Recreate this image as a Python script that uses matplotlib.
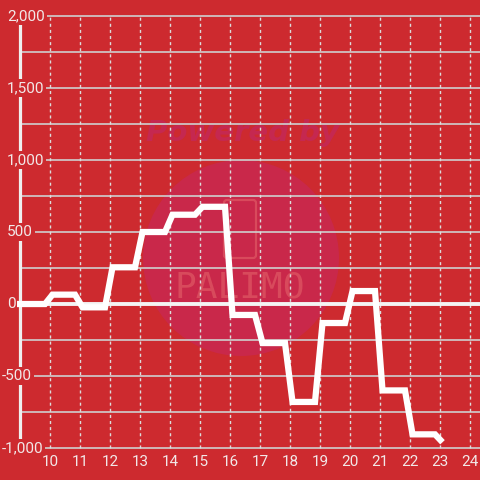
import matplotlib
matplotlib.use("Agg")
import matplotlib.pyplot as plt
from matplotlib.patches import Circle, FancyBboxPatch
import matplotlib.transforms as mtransforms

# ---- data ----
hours = [9, 10, 11, 12, 13, 14, 15, 16, 17, 18, 19, 20, 21, 22, 23]
hourly_values = [0, 65, -23, 255, 500, 620, 675, -76, -271, -680, -132, 90, -600, -905, -960]
x_ticks = [10, 11, 12, 13, 14, 15, 16, 17, 18, 19, 20, 21, 22, 23, 24]
y_ticks = [-1000, -500, 0, 500, 1000, 1500, 2000]
y_minor = [-750, -250, 250, 750, 1250, 1750]
first_time = 8.9          # first sample of the day
seg_start_min = 5         # each hour: value held from hh:05 ...
seg_end_min = 50          # ... to hh:50

# build the line vertices
times, values = [], []
for i, (h, v) in enumerate(zip(hours, hourly_values)):
    t0 = first_time if i == 0 else h + seg_start_min / 60
    times.append(t0); values.append(v)
    if i < len(hours) - 1:
        times.append(h + seg_end_min / 60); values.append(v)

BG = '#cd2a2f'
TXT = '#f2e8e8'
GRID = '#cfcfcf'

fig = plt.figure(figsize=(4.8, 4.8), dpi=100, facecolor=BG)
ax = fig.add_axes([0, 0, 1, 1], facecolor=BG)
ax.set_xlim(8.333, 24.333)
ax.set_ylim(-1222, 2111)
for s in ax.spines.values():
    s.set_visible(False)
ax.set_xticks([]); ax.set_yticks([])

def P(px, py):
    return (px / 480, 1 - py / 480)

# watermark
circ = Circle(P(241, 258), 98 / 480, transform=fig.transFigure, facecolor='#c9284a',
              edgecolor='none', zorder=0.2)
ax.add_patch(circ)
ax.text(*P(243, 133), 'Powered by', transform=fig.transFigure, ha='center', va='center',
        fontsize=21, fontweight='bold', style='italic', color='#c52850', zorder=0.3,
        family='DejaVu Sans')
phone = FancyBboxPatch(P(224, 258), 32 / 480, 58 / 480, boxstyle='round,pad=0,rounding_size=0.006',
                       transform=fig.transFigure, facecolor='none', edgecolor='#d84a5c',
                       lw=1.6, zorder=0.3)
ax.add_patch(phone)
ax.text(*P(240, 287), 'PALIMO', transform=fig.transFigure, ha='center', va='center',
        fontsize=26, fontweight='light', color='#d84a5c', zorder=0.3, family='DejaVu Sans Mono')

# grid
for y in y_ticks + y_minor:
    if y == 0:
        continue
    ax.axhline(y, xmin=20 / 480, xmax=1, color=GRID, lw=1.2, zorder=1)
for x in x_ticks:
    ax.plot([x, x], [y_ticks[0], y_ticks[-1]], color='#dcdcdc', lw=1.0,
            dashes=(2.2, 2.2), zorder=1)
ax.axhline(0, xmin=20 / 480, xmax=1, color='#f4f4f4', lw=2.8, zorder=2)
ax.plot([9.0, 9.0], [y_ticks[0], y_ticks[-1]], color='#efefef', lw=2.3, zorder=2,
        solid_capstyle='butt')

# data line
ax.plot(times, values, color='white', lw=4.5, zorder=5, solid_joinstyle='miter',
        solid_capstyle='butt')

# y labels
trans_y = mtransforms.blended_transform_factory(fig.transFigure, ax.transData)
for y in y_ticks:
    lab = f"{y:,}"
    px = 2 if y < 0 else 7
    ax.text(px / 480, y, lab, transform=trans_y, ha='left', va='center', fontsize=11,
            color=TXT, family='Roboto', zorder=3,
            bbox=dict(boxstyle='square,pad=0.12', facecolor=BG, edgecolor='none'))

# x labels
for x in x_ticks:
    ax.text(x, -1000 - 14 / 0.144, str(x), ha='center', va='center', fontsize=11,
            color=TXT, family='Roboto', zorder=3)

fig.savefig('out.png', dpi=100, facecolor=BG)
